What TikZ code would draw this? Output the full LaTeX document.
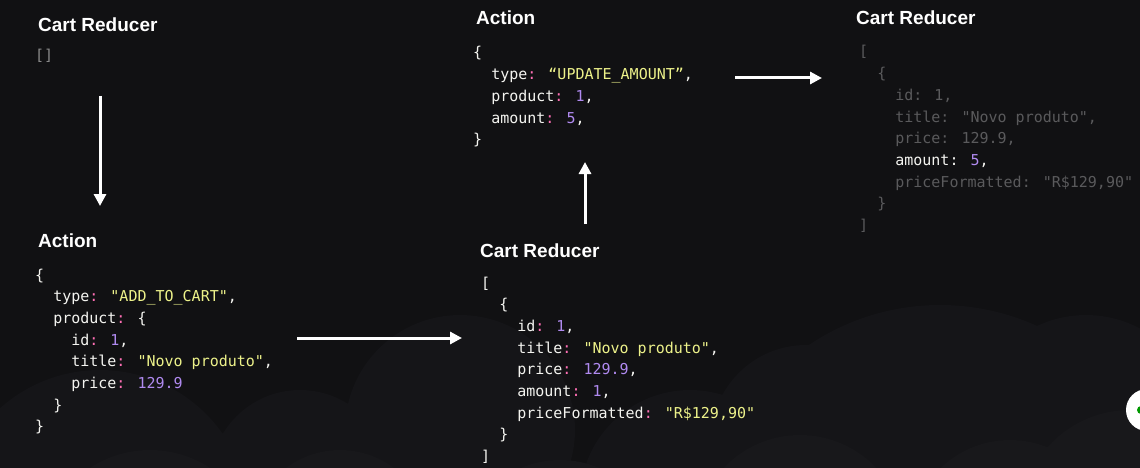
\documentclass[tikz,border=0pt]{standalone}
\usepackage{fontspec}
\usetikzlibrary{arrows.meta}
\newfontfamily\codefont{DejaVu Sans Mono}
\newfontfamily\headfont{Liberation Sans}
\definecolor{bgc}{HTML}{111113}
\definecolor{cloudA}{HTML}{151518}
\definecolor{cloudB}{HTML}{18181B}
\definecolor{keyc}{HTML}{F4F4F0}
\definecolor{colonc}{HTML}{FF6FB5}
\definecolor{strc}{HTML}{EDF28A}
\definecolor{numc}{HTML}{B08AF0}
\definecolor{dimc}{HTML}{5A5A5C}
\definecolor{emptyc}{HTML}{8A8A8A}
\newcommand{\jkey}[1]{#1\textcolor{colonc}{:}}
\newcommand{\jstr}[1]{\textcolor{strc}{#1}}
\newcommand{\jnum}[1]{\textcolor{numc}{#1}}
\newcommand{\tb}{\phantom{xx}}

\tikzset{
  title/.style={anchor=base west, inner sep=0pt, text=white,
    font=\headfont\bfseries\fontsize{19}{22}\selectfont},
  code/.style={anchor=base west, inner sep=0pt, text=keyc,
    font=\codefont\fontsize{15}{21.7}\selectfont},
  flow/.style={draw=white, line width=3pt, -{Triangle[width=12pt,length=12pt]}},
}

\begin{document}
\begin{tikzpicture}[x=1pt, y=-1pt]
\useasboundingbox (0,0) rectangle (1140,468);
\clip (0,0) rectangle (1140,468);
\fill[bgc] (0,0) rectangle (1140,468);
\fill[cloudA] (100,520) circle (150) (300,480) circle (90) (460,430) circle (115)
  (690,500) circle (110) (806,440) circle (95) (940,540) circle (235) (1086,430) circle (115);
\fill[cloudB] (150,560) circle (110) (340,540) circle (90) (560,560) circle (100)
  (800,540) circle (105) (1010,540) circle (100) (1130,520) circle (110);

\node[title] (r1t) at (38,32) {Cart Reducer};
\node[code, text=emptyc] (r1) at (35,61) {[]};

\node[title] (a1t) at (38,247) {Action};
\node[code] (a1) at (35,280) {\begin{tabular}[t]{@{}l@{}}
\{\\
\tb\jkey{type} \jstr{"ADD\_TO\_CART"},\\
\tb\jkey{product} \{\\
\tb\tb\jkey{id} \jnum{1},\\
\tb\tb\jkey{title} \jstr{"Novo produto"},\\
\tb\tb\jkey{price} \jnum{129.9}\\
\tb\}\\
\}
\end{tabular}};

\node[title] (r2t) at (480,257) {Cart Reducer};
\node[code] (r2) at (481,288) {\begin{tabular}[t]{@{}l@{}}
[\\
\tb\{\\
\tb\tb\jkey{id} \jnum{1},\\
\tb\tb\jkey{title} \jstr{"Novo produto"},\\
\tb\tb\jkey{price} \jnum{129.9},\\
\tb\tb\jkey{amount} \jnum{1},\\
\tb\tb\jkey{priceFormatted} \jstr{"R\$129,90"}\\
\tb\}\\
]
\end{tabular}};

\node[title] (a2t) at (476,25) {Action};
\node[code] (a2) at (473,58) {\begin{tabular}[t]{@{}l@{}}
\{\\
\tb\jkey{type} \jstr{“UPDATE\_AMOUNT”},\\
\tb\jkey{product} \jnum{1},\\
\tb\jkey{amount} \jnum{5},\\
\}
\end{tabular}};

\node[title] (r3t) at (856,25) {Cart Reducer};
\node[code, text=dimc] (r3) at (859,57) {\begin{tabular}[t]{@{}l@{}}
[\\
\tb\{\\
\tb\tb id: 1,\\
\tb\tb title: "Novo produto",\\
\tb\tb price: 129.9,\\
\tb\tb\textcolor{keyc}{amount: }\jnum{5}\textcolor{keyc}{,}\\
\tb\tb priceFormatted: "R\$129,90"\\
\tb\}\\
]
\end{tabular}};

\coordinate (f1s) at (100,96);
\coordinate (f1e) at (100,206);
\coordinate (f2s) at (297,338);
\coordinate (f2e) at (462,338);
\coordinate (f3s) at (585,224);
\coordinate (f3e) at (585,162);
\coordinate (f4s) at (735,78);
\coordinate (f4e) at (822,78);
\draw[flow] (f1s) -- (f1e);
\draw[flow] (f2s) -- (f2e);
\draw[flow] (f3s) -- (f3e);
\draw[flow] (f4s) -- (f4e);

\node[circle, fill=white, minimum size=42pt, inner sep=0pt] (bubble) at (1147,410) {};
\fill[green!60!black] (bubble.center) ++(-6,0) circle (4);
\end{tikzpicture}
\end{document}
